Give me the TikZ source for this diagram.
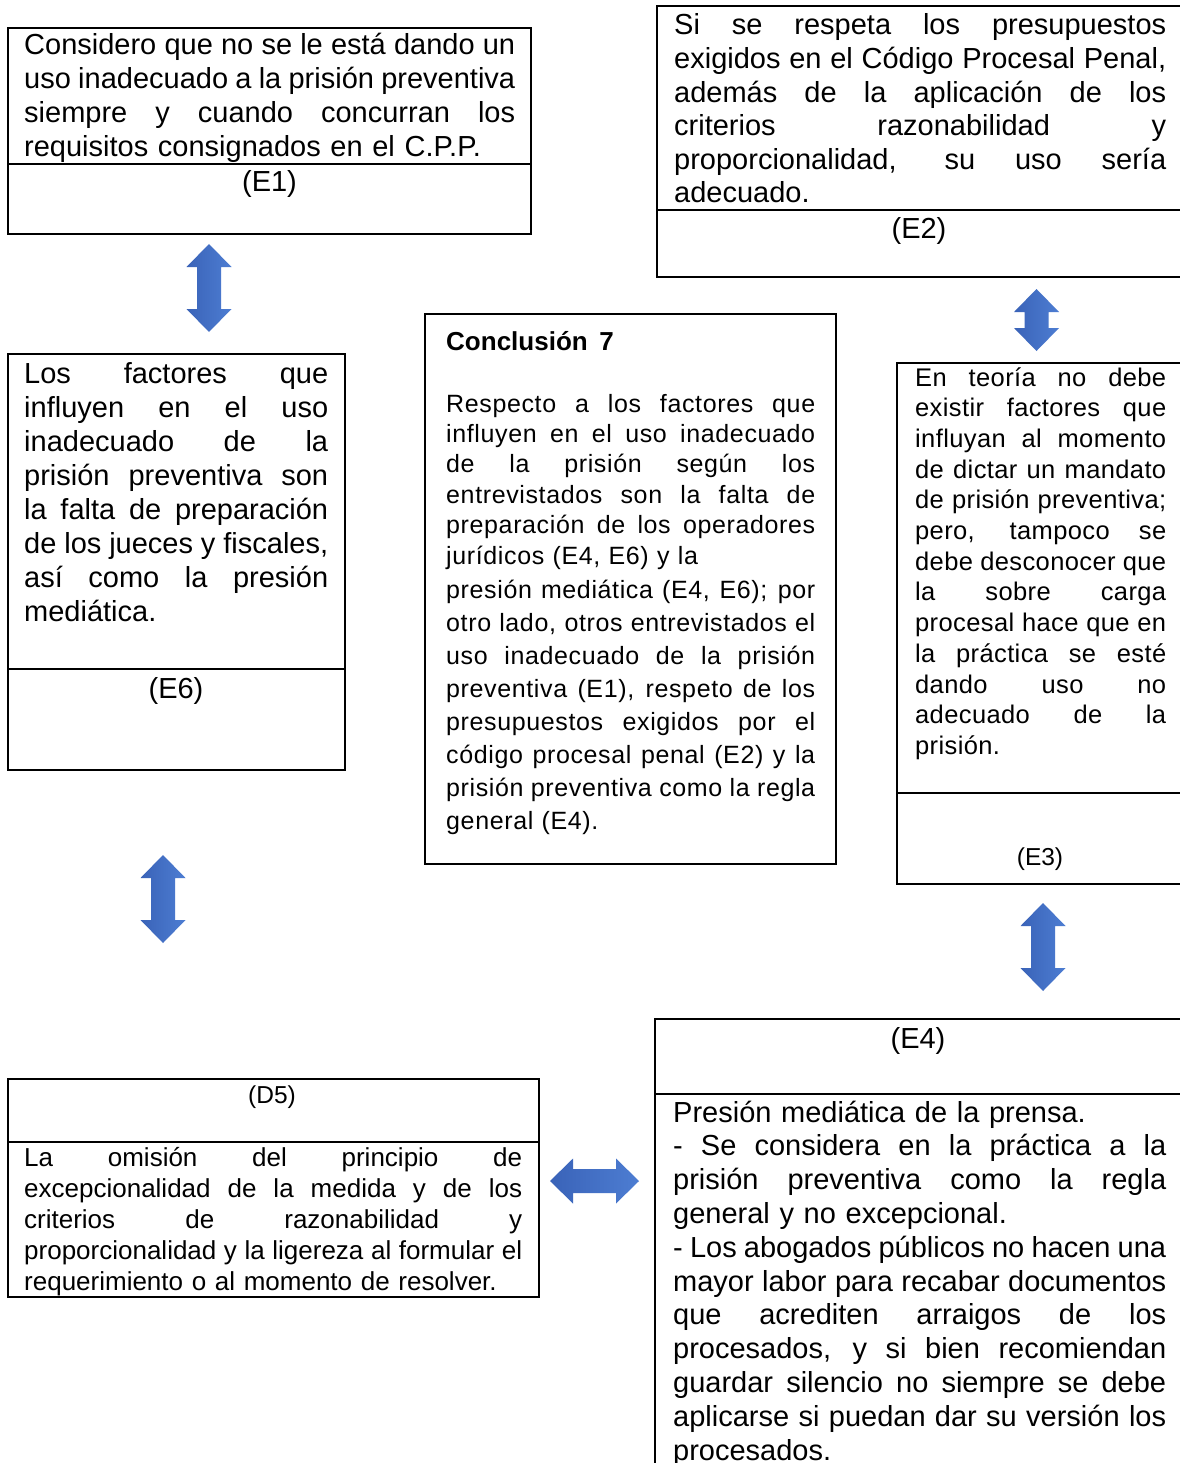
\documentclass[tikz,border=0pt]{standalone}
\usepackage{fontspec}
\setmainfont{Liberation Sans}
\newfontfamily\spacedfont[LetterSpace=2.5]{Liberation Sans}
\newfontfamily\spacedfontB[LetterSpace=1.5]{Liberation Sans}
\definecolor{arrowA}{HTML}{3A63B8}
\definecolor{arrowB}{HTML}{4D7DD2}
\newcommand\jw{400pt}
\newcommand\jline[1]{\hbox to \jw{\spaceskip=.25em plus 1fil minus .08em #1}\par}
\newcommand\eline[1]{\hbox{#1}\par}
\tikzset{
  box/.style={draw=black, line width=1.6pt, anchor=north west, inner sep=0pt, outer sep=0pt},
  divider/.style={draw=black, line width=1.6pt},
  txt/.style={anchor=base west, inner sep=0pt, text width=#1, execute at begin node={\renewcommand\jw{#1}}},
  big/.style={font=\fontsize{29}{34}\selectfont},
  lbl/.style={anchor=base, inner sep=0pt, font=\fontsize{29}{34}\selectfont},
  lblsmall/.style={anchor=base, inner sep=0pt, font=\fontsize{24.5}{28}\selectfont},
  pics/dblarrow/.style={code={
    \shade[left color=arrowA, right color=arrowB]
      (0,-#1) -- (22.5,{-#1+23}) -- (12,{-#1+23}) -- (12,{#1-23}) -- (22.5,{#1-23})
      -- (0,#1) -- (-22.5,{#1-23}) -- (-12,{#1-23}) -- (-12,{-#1+23}) -- (-22.5,{-#1+23}) -- cycle;
  }}
}
\begin{document}
\begin{tikzpicture}[x=1pt,y=-1pt]
\useasboundingbox (0,0) rectangle (1179,1463);
\fill[white] (0,0) rectangle (1179,1463);

% ---------- boxes ----------
\node[box, minimum width=523pt, minimum height=206pt] (e1box) at (8,28) {};
\node[box, minimum width=526pt, minimum height=271pt] (e2box) at (657,6) {};
\node[box, minimum width=337pt, minimum height=416pt] (e6box) at (8,354) {};
\node[box, minimum width=411pt, minimum height=550pt] (cbox) at (425,314) {};
\node[box, minimum width=287pt, minimum height=521pt] (e3box) at (897,363) {};
\node[box, minimum width=531pt, minimum height=218pt] (d5box) at (8,1079) {};
\node[box, minimum width=528pt, minimum height=460pt] (e4box) at (655,1019) {};

% dividers
\coordinate (e1d) at (0,164);
\coordinate (e2d) at (0,210);
\coordinate (e6d) at (0,669);
\coordinate (e3d) at (0,793);
\coordinate (d5d) at (0,1142);
\coordinate (e4d) at (0,1094);
\draw[divider] (e1box.west |- e1d) -- (e1box.east |- e1d);
\draw[divider] (e2box.west |- e2d) -- (e2box.east |- e2d);
\draw[divider] (e6box.west |- e6d) -- (e6box.east |- e6d);
\draw[divider] (e3box.west |- e3d) -- (e3box.east |- e3d);
\draw[divider] (d5box.west |- d5d) -- (d5box.east |- d5d);
\draw[divider] (e4box.west |- e4d) -- (e4box.east |- e4d);

% ---------- E1 ----------
\node[txt=491pt, big] (e1text) at (24,55) {%
\jline{Considero que no se le está dando un}
\jline{uso inadecuado a la prisión preventiva}
\jline{siempre y cuando concurran los}
\eline{requisitos consignados en el C.P.P.}};
\node[lbl] (e1lbl) at (269.5,192) {(E1)};

% ---------- E2 ----------
\node[txt=492pt, font=\fontsize{29}{33.6}\selectfont] (e2text) at (674,35) {%
\jline{Si se respeta los presupuestos}
\jline{exigidos en el Código Procesal Penal,}
\jline{además de la aplicación de los}
\jline{criterios razonabilidad y}
\jline{proporcionalidad, su uso sería}
\eline{adecuado.}};
\node[lbl] (e2lbl) at (919,239) {(E2)};

% ---------- E6 ----------
\node[txt=304pt, big] (e6text) at (24,383) {%
\jline{Los factores que}
\jline{influyen en el uso}
\jline{inadecuado de la}
\jline{prisión preventiva son}
\jline{la falta de preparación}
\jline{de los jueces y fiscales,}
\jline{así como la presión}
\eline{mediática.}};
\node[lbl] (e6lbl) at (176,698) {(E6)};

% ---------- Conclusion ----------
\node[anchor=base west, inner sep=0pt, font=\fontsize{26}{30}\selectfont\bfseries] (ctitle) at (446,350) {Conclusión\hspace{0.45em}7};
\node[txt=369pt, font=\spacedfont\fontsize{25}{30.4}\selectfont] (cpara1) at (446,412) {%
\jline{Respecto a los factores que}
\jline{influyen en el uso inadecuado}
\jline{de la prisión según los}
\jline{entrevistados son la falta de}
\jline{preparación de los operadores}
\eline{jurídicos (E4, E6) y la}};
\node[txt=369pt, font=\spacedfont\fontsize{25}{33.1}\selectfont] (cpara2) at (446,598) {%
\jline{presión mediática (E4, E6); por}
\jline{otro lado, otros entrevistados el}
\jline{uso inadecuado de la prisión}
\jline{preventiva (E1), respeto de los}
\jline{presupuestos exigidos por el}
\jline{código procesal penal (E2) y la}
\jline{prisión preventiva como la regla}
\eline{general (E4).}};

% ---------- E3 ----------
\node[txt=251pt, font=\spacedfontB\fontsize{25.5}{30.7}\selectfont] (e3text) at (915,386) {%
\jline{En teoría no debe}
\jline{existir factores que}
\jline{influyan al momento}
\jline{de dictar un mandato}
\jline{de prisión preventiva;}
\jline{pero, tampoco se}
\jline{debe desconocer que}
\jline{la sobre carga}
\jline{procesal hace que en}
\jline{la práctica se esté}
\jline{dando uso no}
\jline{adecuado de la}
\eline{prisión.}};
\node[lblsmall] (e3lbl) at (1040,865) {(E3)};

% ---------- D5 ----------
\node[lblsmall] (d5lbl) at (272,1103) {(D5)};
\node[txt=498pt, font=\fontsize{26}{31}\selectfont] (d5text) at (24,1166) {%
\jline{La omisión del principio de}
\jline{excepcionalidad de la medida y de los}
\jline{criterios de razonabilidad y}
\jline{proporcionalidad y la ligereza al formular el}
\eline{requerimiento o al momento de resolver.}};

% ---------- E4 ----------
\node[lbl] (e4lbl) at (918,1048) {(E4)};
\node[txt=493pt, font=\fontsize{29}{33.8}\selectfont] (e4text) at (673,1122) {%
\eline{Presión mediática de la prensa.}
\jline{- Se considera en la práctica a la}
\jline{prisión preventiva como la regla}
\eline{general y no excepcional.}
\jline{- Los abogados públicos no hacen una}
\jline{mayor labor para recabar documentos}
\jline{que acrediten arraigos de los}
\jline{procesados, y si bien recomiendan}
\jline{guardar silencio no siempre se debe}
\jline{aplicarse si puedan dar su versión los}
\eline{procesados.}};

% ---------- block arrows ----------
\coordinate (a1) at (209,288);
\coordinate (a2) at (1036.5,320);
\coordinate (a3) at (163,899);
\coordinate (a4) at (1043,947);
\coordinate (a5) at (594.5,1181);
\pic at (a1) {dblarrow=44};
\pic at (a2) {dblarrow=31};
\pic at (a3) {dblarrow=44};
\pic at (a4) {dblarrow=44};
\pic[rotate=90] at (a5) {dblarrow=44.5};
\end{tikzpicture}
\end{document}
